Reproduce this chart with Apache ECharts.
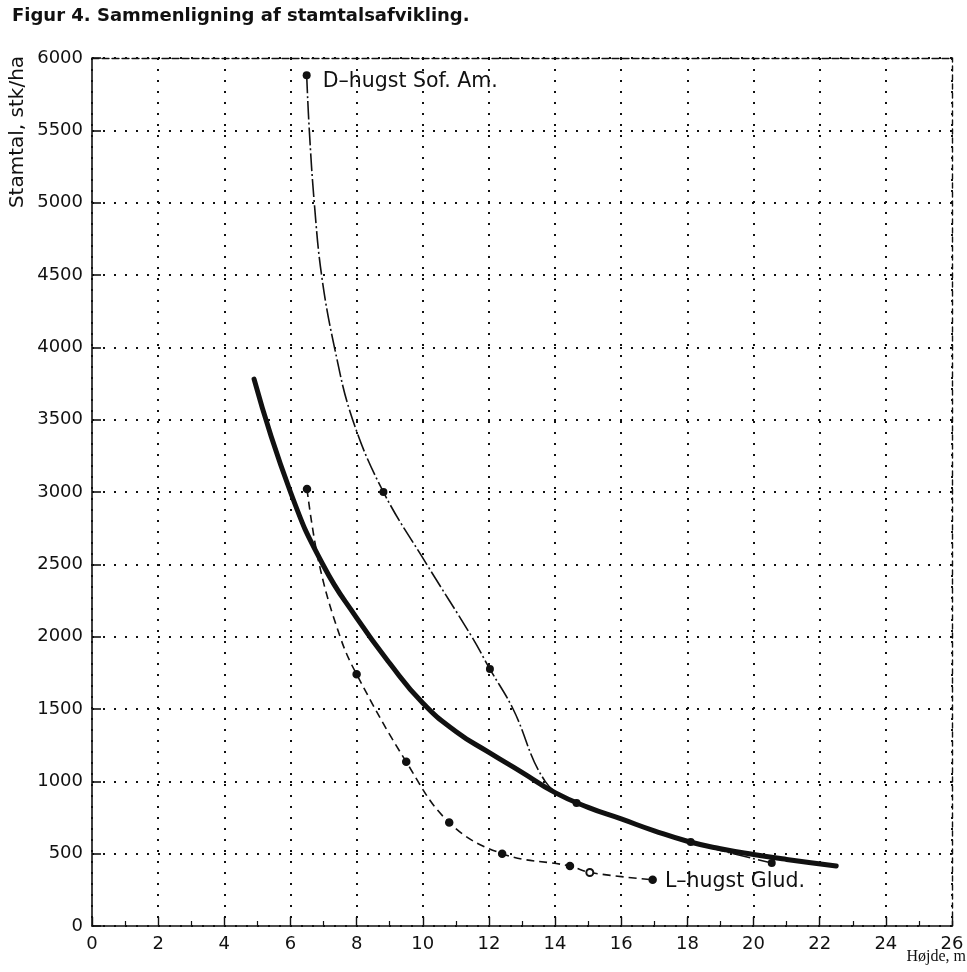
<!DOCTYPE html>
<html>
<head>
<meta charset="utf-8">
<script src="https://cdn.jsdelivr.net/npm/echarts@6/dist/echarts.min.js"></script>
<style>
html, body { margin: 0; padding: 0; background: #ffffff; }
#chart { width: 967px; height: 972px; }
</style>
</head>
<body>
<div id="chart"></div>
<script>
// Axis ranges (height in m, stems per ha)
const heightMin = 0, heightMax = 26, heightStep = 2;
const stemsMin = 0, stemsMax = 6000, stemsStep = 500;

// Mean development curve (thick line)
const meanHeight = [4.9, 6, 7, 8, 9, 10, 11, 12, 13, 14, 15, 16, 17, 18, 19, 20, 21, 22.5];
const meanStems  = [3780, 3000, 2490, 2130, 1816, 1541, 1345, 1200, 1062, 922, 820, 740, 658, 586, 534, 494, 460, 415];

// D-hugst Sof. Am.: traced curve and measured points
const dTraceHeight = [6.49, 6.57, 6.72, 6.94, 7.33, 7.88, 8.81, 10.12, 11.48, 12.03, 12.73, 13.7, 14.65, 16, 18.1, 20.55];
const dTraceStems  = [5880, 5500, 5000, 4500, 4000, 3500, 3000, 2500, 2000, 1776, 1500, 1000, 850, 740, 580, 435];
const dPointHeight = [6.49, 8.81, 12.03, 14.65, 18.1, 20.55];
const dPointStems  = [5880, 3000, 1776, 850, 580, 435];

// L-hugst Glud.: traced curve and measured points
const lTraceHeight = [6.5, 6.87, 7.5, 8.0, 9.5, 10.8, 12.4, 14.45, 15.05, 16.95];
const lTraceStems  = [3020, 2500, 2000, 1740, 1135, 715, 500, 415, 370, 320];
const lPointHeight = [6.5, 8.0, 9.5, 10.8, 12.4, 14.45, 15.05, 16.95];
const lPointStems  = [3020, 1740, 1135, 715, 500, 415, 370, 320];

const dLabel = 'D–hugst Sof. Am.';
const lLabel = 'L–hugst Glud.';
const titleText = 'Figur 4. Sammenligning af stamtalsafvikling.';
const yName = 'Stamtal, stk/ha';
const xName = 'Højde, m';

const ink = '#111111';
const plotFont = 'DejaVu Sans';

function pairs(xs, ys) { return xs.map((x, i) => [x, ys[i]]); }

const labelStyle = { fontFamily: plotFont, fontSize: 20.5, color: ink, opacity: 1 };

const dPoints = pairs(dPointHeight, dPointStems).map((p, i) => i === 0
  ? { value: p, label: Object.assign({ show: true, position: 'right', distance: 12, offset: [0, 6], formatter: dLabel }, labelStyle) }
  : { value: p });

const lOpenPoint = 6; // point drawn as an open circle
const lPoints = pairs(lPointHeight, lPointStems).map((p, i) => {
  const item = { value: p };
  if (i === lOpenPoint) { item.symbol = 'emptyCircle'; item.symbolSize = 7; }
  if (i === lPointHeight.length - 1) {
    item.label = Object.assign({ show: true, position: 'right', distance: 8, offset: [0, 2], formatter: lLabel }, labelStyle);
  }
  return item;
});

const dottedGrid = { show: true, lineStyle: { color: ink, width: 2, type: [2, 9] } };
const plainNumber = v => String(v);

const chart = echarts.init(document.getElementById('chart'), null, { renderer: 'canvas' });
chart.setOption({
  animation: false,
  backgroundColor: '#ffffff',
  title: {
    text: titleText,
    left: 12, top: 7, padding: 0,
    textStyle: { fontFamily: 'DejaVu Sans', fontWeight: 'bold', fontSize: 18, color: ink }
  },
  grid: { left: 92, right: 15, top: 58, bottom: 46 },
  xAxis: [{
    type: 'value', min: heightMin, max: heightMax, interval: heightStep,
    axisLine: { show: true, onZero: false, lineStyle: { color: ink, width: 1.6 } },
    axisTick: { show: true, inside: true, length: 9, lineStyle: { color: ink, width: 1.4 } },
    minorTick: { show: true, splitNumber: 2, length: 5, lineStyle: { color: ink, width: 1.2 } },
    axisLabel: { margin: 9, fontFamily: plotFont, fontSize: 18, color: ink, formatter: plainNumber },
    splitLine: dottedGrid
  }, {
    type: 'value', position: 'top', min: heightMin, max: heightMax, interval: heightStep,
    axisLine: { show: true, onZero: false, lineStyle: { color: ink, width: 1.4, type: [7, 3] } },
    axisTick: { show: false }, axisLabel: { show: false }, splitLine: { show: false }
  }],
  yAxis: [{
    type: 'value', min: stemsMin, max: stemsMax, interval: stemsStep,
    axisLine: { show: true, onZero: false, lineStyle: { color: ink, width: 1.6 } },
    axisTick: { show: true, inside: true, length: 9, lineStyle: { color: ink, width: 1.6 } },
    axisLabel: { margin: 9, fontFamily: plotFont, fontSize: 18, color: ink, formatter: plainNumber },
    splitLine: dottedGrid
  }, {
    type: 'value', position: 'right', min: stemsMin, max: stemsMax, interval: stemsStep,
    axisLine: { show: true, onZero: false, lineStyle: { color: ink, width: 1.4, type: [5, 4] } },
    axisTick: { show: false }, axisLabel: { show: false }, splitLine: { show: false }
  }],
  graphic: [{
    type: 'text', x: 18, y: 132, rotation: Math.PI / 2,
    style: { text: yName, font: '20px "DejaVu Sans"', fill: ink, align: 'center', verticalAlign: 'middle' }
  }, {
    type: 'text', right: 1, top: 949,
    style: { text: xName, font: '16px "Liberation Serif"', fill: ink }
  }],
  series: [{
    name: 'mean', type: 'line', data: pairs(meanHeight, meanStems),
    smooth: 0.5, showSymbol: false, symbol: 'none',
    lineStyle: { color: ink, width: 5, cap: 'round' }, z: 3
  }, {
    name: 'dTrace', type: 'line', data: pairs(dTraceHeight, dTraceStems),
    smooth: 0.4, showSymbol: false, symbol: 'none',
    lineStyle: { color: ink, width: 1.6, type: [18, 3, 2, 3] }, z: 4
  }, {
    name: 'dPoints', type: 'scatter', data: dPoints,
    symbol: 'circle', symbolSize: 8, itemStyle: { color: ink, opacity: 1 }, z: 5
  }, {
    name: 'lTrace', type: 'line', data: pairs(lTraceHeight, lTraceStems),
    smooth: 0.4, showSymbol: false, symbol: 'none',
    lineStyle: { color: ink, width: 1.6, type: [8, 5] }, z: 4
  }, {
    name: 'lPoints', type: 'scatter', data: lPoints,
    symbol: 'circle', symbolSize: 7, itemStyle: { color: ink, borderColor: ink, borderWidth: 1.5, opacity: 1 }, z: 5
  }]
});
</script>
</body>
</html>
